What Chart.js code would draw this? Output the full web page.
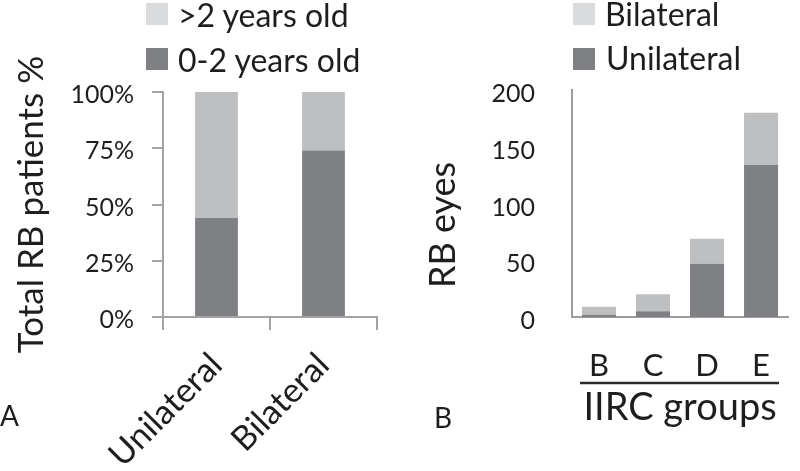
<!DOCTYPE html>
<html>
<head>
<meta charset="utf-8">
<script src="https://cdn.jsdelivr.net/npm/chart.js@4.4.1/dist/chart.umd.min.js"></script>
<style>
html,body{margin:0;padding:0;background:#fff;}
#wrap{position:relative;width:800px;height:471px;overflow:hidden;font-family:Lato,sans-serif;color:#1e1e1e;}
canvas{position:absolute;top:0;}
.lg{position:absolute;font-size:32px;line-height:1;white-space:nowrap;}
.sw{position:absolute;width:22px;height:22px;}
.pl{position:absolute;font-size:28px;line-height:1;}
#rbt{position:absolute;left:441px;top:225px;font-size:36px;line-height:1;white-space:nowrap;transform:translate(-50%,-50%) rotate(-90deg);}
</style>
</head>
<body>
<div id="wrap">
  <canvas id="chartA" width="400" height="471" style="left:0"></canvas>
  <canvas id="chartB" width="400" height="471" style="left:400px"></canvas>

  <div class="sw" style="left:146px;top:3px;background:#dadbdc"></div>
  <div class="lg" style="left:178px;top:-1px">&gt;2 years old</div>
  <div class="sw" style="left:146px;top:48px;background:#7f8084"></div>
  <div class="lg" style="left:178px;top:44px">0-2 years old</div>

  <div class="sw" style="left:573px;top:3px;background:#dadbdc"></div>
  <div class="lg" style="left:605px;top:-2px">Bilateral</div>
  <div class="sw" style="left:573px;top:48px;background:#7f8084"></div>
  <div class="lg" style="left:606px;top:42px">Unilateral</div>

  <div id="rbt">RB eyes</div>
  <div class="pl" style="left:0px;top:401px">A</div>
  <div class="pl" style="left:434px;top:403px">B</div>
</div>
<script>
// ---- data ----
const ageCategories = ['Unilateral', 'Bilateral'];
const age0to2 = [44, 74];
const ageOver2 = [56, 26];
const ageTicks = [0, 25, 50, 75, 100];

const groupCategories = ['B', 'C', 'D', 'E'];
const unilateralEyes = [2, 5, 47, 134];
const bilateralEyes = [7, 15, 22, 46];
const eyeTicks = [0, 50, 100, 150, 200];

// ---- styles ----
const FONT = 'Lato';
const TEXT = '#1e1e1e';
const DARK = '#7f8084';
const LIGHT = '#bebfc1';
const AXIS = '#a3a3a3';

Chart.defaults.font.family = FONT;
Chart.defaults.color = TEXT;

new Chart(document.getElementById('chartA'), {
  type: 'bar',
  data: {
    labels: ageCategories,
    datasets: [
      { label: '0-2 years old', data: age0to2, backgroundColor: DARK, barPercentage: 0.4, categoryPercentage: 1 },
      { label: '>2 years old', data: ageOver2, backgroundColor: LIGHT, barPercentage: 0.4, categoryPercentage: 1 }
    ]
  },
  options: {
    responsive: false,
    animation: false,
    layout: { padding: { top: 92, right: 23, left: 0, bottom: 0 } },
    plugins: { legend: { display: false }, tooltip: { enabled: false } },
    scales: {
      x: {
        stacked: true,
        afterFit: s => { s.height = 154; },
        grid: { display: true, drawOnChartArea: false, drawTicks: true, tickLength: 13, color: AXIS, lineWidth: 2, offset: true },
        border: { display: true, color: AXIS, width: 2 },
        ticks: { minRotation: 45, maxRotation: 45, autoSkip: false, padding: 15, color: TEXT, font: { family: FONT, size: 34 } }
      },
      y: {
        stacked: true,
        min: 0, max: 100,
        afterFit: s => { s.width = 163; },
        afterBuildTicks: s => { s.ticks = ageTicks.map(v => ({ value: v })); },
        grid: { drawOnChartArea: false, drawTicks: true, tickLength: 11, color: AXIS, lineWidth: 2 },
        border: { display: true, color: AXIS, width: 2 },
        ticks: { padding: 18, labelOffset: 3, color: TEXT, font: { family: FONT, size: 25 }, callback: v => v + '%' },
        title: { display: true, text: 'Total RB patients %', color: TEXT, font: { family: FONT, size: 35 }, padding: { top: 11, bottom: 0 } }
      }
    }
  }
});

const underline = {
  id: 'underline',
  afterDraw(chart) {
    const x = chart.scales.x;
    const ctx = chart.ctx;
    ctx.save();
    ctx.strokeStyle = '#2b2b2b';
    ctx.lineWidth = 2.5;
    ctx.beginPath();
    ctx.moveTo(x.left + 8, x.top + 66);
    ctx.lineTo(x.right - 9, x.top + 66);
    ctx.stroke();
    ctx.restore();
  }
};

new Chart(document.getElementById('chartB'), {
  type: 'bar',
  data: {
    labels: groupCategories,
    datasets: [
      { label: 'Unilateral', data: unilateralEyes, backgroundColor: DARK, barPercentage: 0.63, categoryPercentage: 1 },
      { label: 'Bilateral', data: bilateralEyes, backgroundColor: LIGHT, barPercentage: 0.63, categoryPercentage: 1 }
    ]
  },
  plugins: [underline],
  options: {
    responsive: false,
    animation: false,
    layout: { padding: { top: 90, right: 0, left: 0, bottom: 0 } },
    plugins: { legend: { display: false }, tooltip: { enabled: false } },
    scales: {
      x: {
        stacked: true,
        afterFit: s => { s.height = 154; },
        grid: { display: false, drawTicks: false },
        border: { display: true, color: '#9c9c9c', width: 2 },
        ticks: { padding: 30, color: TEXT, font: { family: FONT, size: 31 } },
        title: { display: true, text: 'IIRC groups', color: TEXT, font: { family: FONT, size: 38 }, padding: { top: 0, bottom: 40 } }
      },
      y: {
        stacked: true,
        min: 0, max: 200,
        afterFit: s => { s.width = 172; },
        afterBuildTicks: s => { s.ticks = eyeTicks.map(v => ({ value: v })); },
        grid: { display: false, drawTicks: false },
        border: { display: true, color: '#9c9c9c', width: 2 },
        ticks: { padding: 37, labelOffset: 4, color: TEXT, font: { family: FONT, size: 25 } }
      }
    }
  }
});
</script>
</body>
</html>
